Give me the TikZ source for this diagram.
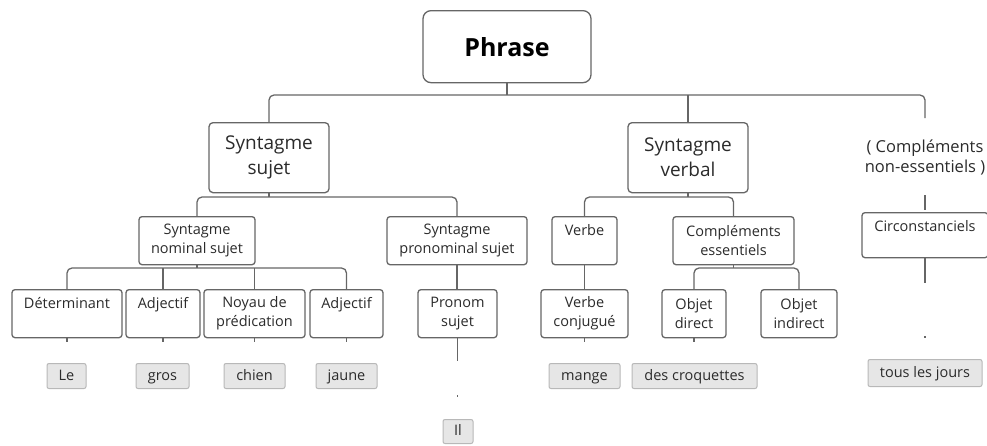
\documentclass[tikz,border=0pt]{standalone}
\usepackage{fontspec}
\setmainfont{Open Sans}
\usepackage{tikz}
\usepackage{xcolor}
\definecolor{linegray}{HTML}{666666}
\definecolor{inkgray}{HTML}{2B2B2B}
\definecolor{wordfill}{HTML}{E6E6E6}
\definecolor{wordline}{HTML}{B8B8B8}
\tikzstyle{phrasebox} = [rectangle, draw=linegray, rounded corners=8pt, line width=1.3pt, fill=white, anchor=north, minimum width=168pt, minimum height=72pt, font=\fontsize{25}{30}\selectfont\bfseries, text=black]
\tikzstyle{bigbox} = [rectangle, draw=linegray, rounded corners=4pt, line width=1.3pt, fill=white, anchor=north, minimum width=120pt, minimum height=70pt, font=\fontsize{19}{25}\selectfont, text=inkgray]
\tikzstyle{smallbox} = [rectangle, draw=linegray, rounded corners=3pt, line width=1.3pt, fill=white, anchor=north, minimum height=48pt, font=\fontsize{14.5}{19}\selectfont, text=inkgray]
\tikzstyle{oneline} = [text height=16pt, text depth=26pt]
\tikzstyle{wordbox} = [rectangle, draw=wordline, rounded corners=2pt, line width=1pt, fill=wordfill, anchor=north, minimum height=25pt, text height=11pt, text depth=3pt, font=\fontsize{14.5}{19}\selectfont, text=inkgray]
\tikzstyle{invis} = [draw=none, anchor=north, minimum height=70pt, font=\fontsize{16.5}{20}\selectfont, text=inkgray]
\tikzstyle{link} = [draw=linegray, line width=1.3pt, rounded corners=5pt]
\tikzstyle{faded} = [draw=linegray, line width=1.3pt]

\begin{document}
\begin{tikzpicture}[x=1pt,y=-1pt,every node/.style={inner sep=3pt, align=center}]
  \useasboundingbox (0,0) rectangle (987,445);

  % levels
  \node[phrasebox] (phrase) at (507,10) {Phrase};
  \node[bigbox] (ssujet) at (269,122) {Syntagme\\sujet};
  \node[bigbox] (sverbal) at (688,122) {Syntagme\\verbal};
  \node[invis] (cne) at (925,122) {( Compléments\\non-essentiels )};

  \node[smallbox, minimum width=116pt] (snom) at (197,216) {Syntagme\\nominal sujet};
  \node[smallbox, minimum width=140pt] (spron) at (457,216) {Syntagme\\pronominal sujet};
  \node[smallbox, oneline, minimum width=65pt] (verbe) at (584.5,216) {Verbe};
  \node[smallbox, minimum width=121pt] (cess) at (733.5,216) {Compléments\\essentiels};
  \node[smallbox, minimum width=126pt, minimum height=45pt, text height=16pt, text depth=23pt] (circ) at (925,212) {Circonstanciels};

  \node[smallbox, oneline, minimum width=110pt] (det) at (67,289) {Déterminant};
  \node[smallbox, oneline, minimum width=74pt] (adj1) at (163,289) {Adjectif};
  \node[smallbox, minimum width=101pt] (noyau) at (254.5,289) {Noyau de\\prédication};
  \node[smallbox, oneline, minimum width=73pt] (adj2) at (346.5,289) {Adjectif};
  \node[smallbox, minimum width=79pt] (pronom) at (457.5,289) {Pronom\\sujet};
  \node[smallbox, minimum width=87pt] (vconj) at (584.5,289) {Verbe\\conjugué};
  \node[smallbox, minimum width=64pt] (objd) at (694,289) {Objet\\direct};
  \node[smallbox, minimum width=76pt] (obji) at (799,289) {Objet\\indirect};

  % words
  \node[wordbox, minimum width=39pt] (le) at (66.5,363) {Le};
  \node[wordbox, minimum width=53pt] (gros) at (162.5,363) {gros};
  \node[wordbox, minimum width=61pt] (chien) at (254.5,363) {chien};
  \node[wordbox, minimum width=61pt] (jaune) at (346.5,363) {jaune};
  \node[wordbox, minimum width=71pt] (mange) at (584.5,363) {mange};
  \node[wordbox, minimum width=125pt] (croq) at (694.5,363) {des croquettes};
  \node[wordbox, minimum width=30pt, minimum height=24pt] (il) at (458,419) {Il};
  \node[wordbox, minimum width=114pt, minimum height=27pt] (tous) at (925,359) {tous les jours};

  \coordinate (b0) at (0,95);
  \coordinate (b1) at (0,197);
  \coordinate (b2) at (0,268);

  \path[link] (phrase.south) -- (phrase.south |- b0);
  \path[link, shorten >=4pt] (ssujet.north) |- (phrase.south |- b0) -| (cne.north);
  \path[link] (sverbal.north) -- (sverbal.north |- b0);

  \path[link] (ssujet.south) -- (ssujet.south |- b1);
  \path[link] (snom.north) |- (ssujet.south |- b1) -| (spron.north);
  \path[link] (sverbal.south) -- (sverbal.south |- b1);
  \path[link] (verbe.north) |- (sverbal.south |- b1) -| (cess.north);
  \path[link, shorten <=3pt, shorten >=2pt] (cne.south) -- (circ.north);

  \path[link] (snom.south) -- (snom.south |- b2);
  \path[link] (det.north) |- (snom.south |- b2) -| (adj2.north);
  \path[link] (adj1.north) -- (adj1.north |- b2);
  \path[link] (noyau.north) -- (noyau.north |- b2);
  \path[link] (spron.south) -- (spron.south |- pronom.north);
  \path[link] (verbe.south) -- (verbe.south |- vconj.north);
  \path[link] (cess.south) -- (cess.south |- b2);
  \path[link] (objd.north) |- (cess.south |- b2) -| (obji.north);

  \path[faded, dash pattern=on 4pt off 40pt] (det.south) -- (det.south |- le.north);
  \path[faded, dash pattern=on 4pt off 40pt] (adj1.south) -- (adj1.south |- gros.north);
  \path[faded, dash pattern=on 4pt off 40pt] (noyau.south) -- (noyau.south |- chien.north);
  \path[faded, dash pattern=on 4pt off 40pt] (adj2.south) -- (adj2.south |- jaune.north);
  \path[faded, dash pattern=on 4pt off 40pt] (vconj.south) -- (vconj.south |- mange.north);
  \path[faded, dash pattern=on 4pt off 40pt] (objd.south) -- (objd.south |- croq.north);
  \path[faded, dash pattern=on 23pt off 34pt on 1.5pt off 40pt] (pronom.south) -- (pronom.south |- il.north);
  \path[faded, dash pattern=on 25pt off 53pt on 1.5pt off 40pt] (circ.south) -- (tous.north);
\end{tikzpicture}
\end{document}
